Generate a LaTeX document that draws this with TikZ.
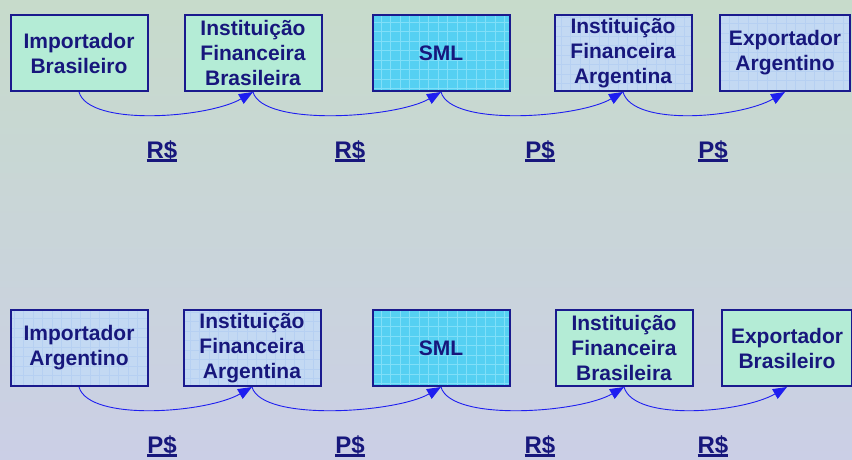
\documentclass[tikz,border=0pt]{standalone}
\usepackage{fontspec}
\setmainfont{Liberation Sans}
\usetikzlibrary{arrows.meta}
\definecolor{navy}{HTML}{17177C}
\definecolor{boxline}{HTML}{1A1A8E}
\definecolor{verde}{HTML}{B4ECD6}
\definecolor{azul}{HTML}{C3D9F3}
\definecolor{azulgrade}{HTML}{B6D0F2}
\definecolor{ciano}{HTML}{55D0F2}
\definecolor{cianograde}{HTML}{80DFF8}
\definecolor{seta}{HTML}{1E1EF0}
\definecolor{fundoalto}{HTML}{C7DBCB}
\definecolor{fundobaixo}{HTML}{CBCFE6}
\newcommand\sublinha[1]{\setbox0\hbox{#1}\rlap{\rule[-3.5pt]{\wd0}{2.4pt}}\box0}
\begin{document}
\begin{tikzpicture}
    [x=1pt, y=-1pt,
    font=\bfseries\fontsize{21}{25}\selectfont, text=navy,
    caixa/.style={rectangle, draw=boxline, line width=2pt, align=center,
        minimum width=137pt, minimum height=76pt, inner sep=0pt},
    brcaixa/.style={caixa, fill=verde},
    arcaixa/.style={caixa, fill=azul, path picture={
        \draw[azulgrade, line width=0.5pt, step=9.5pt]
        (path picture bounding box.south west) grid (path picture bounding box.north east);}},
    smlcaixa/.style={caixa, fill=ciano, path picture={
        \draw[cianograde, line width=0.6pt, step=9.5pt]
        (path picture bounding box.south west) grid (path picture bounding box.north east);}},
    moeda/.style={font=\bfseries\fontsize{24}{25}\selectfont, inner sep=0pt},
    fluxo/.style={draw=seta, line width=0.9pt, -{Triangle[length=14pt,width=11pt]}}
    ]
    \useasboundingbox (0,0) rectangle (852,459);
    \shade[top color=fundoalto, bottom color=fundobaixo] (0,0) rectangle (852,459);

    % brasil -> argentina
    \node [brcaixa] (imp1) at (79,53) {Importador\\Brasileiro};
    \node [brcaixa] (ifb1) at (253,53) {Instituição\\Financeira\\Brasileira};
    \node [smlcaixa] (sml1) at (441,53) {SML};
    \node [arcaixa] (ifa1) at (623,53) {Instituição\\Financeira\\Argentina};
    \node [arcaixa, minimum width=130pt] (exp1) at (785,53) {Exportador\\Argentino};

    \draw [fluxo] (imp1.south) .. controls +(10,35) and +(-45,26) .. (ifb1.south);
    \draw [fluxo] (ifb1.south) .. controls +(10,35) and +(-45,26) .. (sml1.south);
    \draw [fluxo] (sml1.south) .. controls +(10,35) and +(-45,26) .. (ifa1.south);
    \draw [fluxo] (ifa1.south) .. controls +(10,35) and +(-45,26) .. (exp1.south);

    \node [moeda] (m11) at (162,151) {\sublinha{R\$}};
    \node [moeda] (m12) at (350,151) {\sublinha{R\$}};
    \node [moeda] (m13) at (540,151) {\sublinha{P\$}};
    \node [moeda] (m14) at (713,151) {\sublinha{P\$}};

    % argentina -> brasil
    \node [arcaixa] (imp2) at (79,348) {Importador\\Argentino};
    \node [arcaixa] (ifa2) at (252,348) {Instituição\\Financeira\\Argentina};
    \node [smlcaixa] (sml2) at (441,348) {SML};
    \node [brcaixa] (ifb2) at (624,348) {Instituição\\Financeira\\Brasileira};
    \node [brcaixa, minimum width=130pt] (exp2) at (787,348) {Exportador\\Brasileiro};

    \draw [fluxo] (imp2.south) .. controls +(10,35) and +(-45,26) .. (ifa2.south);
    \draw [fluxo] (ifa2.south) .. controls +(10,35) and +(-45,26) .. (sml2.south);
    \draw [fluxo] (sml2.south) .. controls +(10,35) and +(-45,26) .. (ifb2.south);
    \draw [fluxo] (ifb2.south) .. controls +(10,35) and +(-45,26) .. (exp2.south);

    \node [moeda] (m21) at (162,446) {\sublinha{P\$}};
    \node [moeda] (m22) at (350,446) {\sublinha{P\$}};
    \node [moeda] (m23) at (540,446) {\sublinha{R\$}};
    \node [moeda] (m24) at (713,446) {\sublinha{R\$}};
\end{tikzpicture}
\end{document}
